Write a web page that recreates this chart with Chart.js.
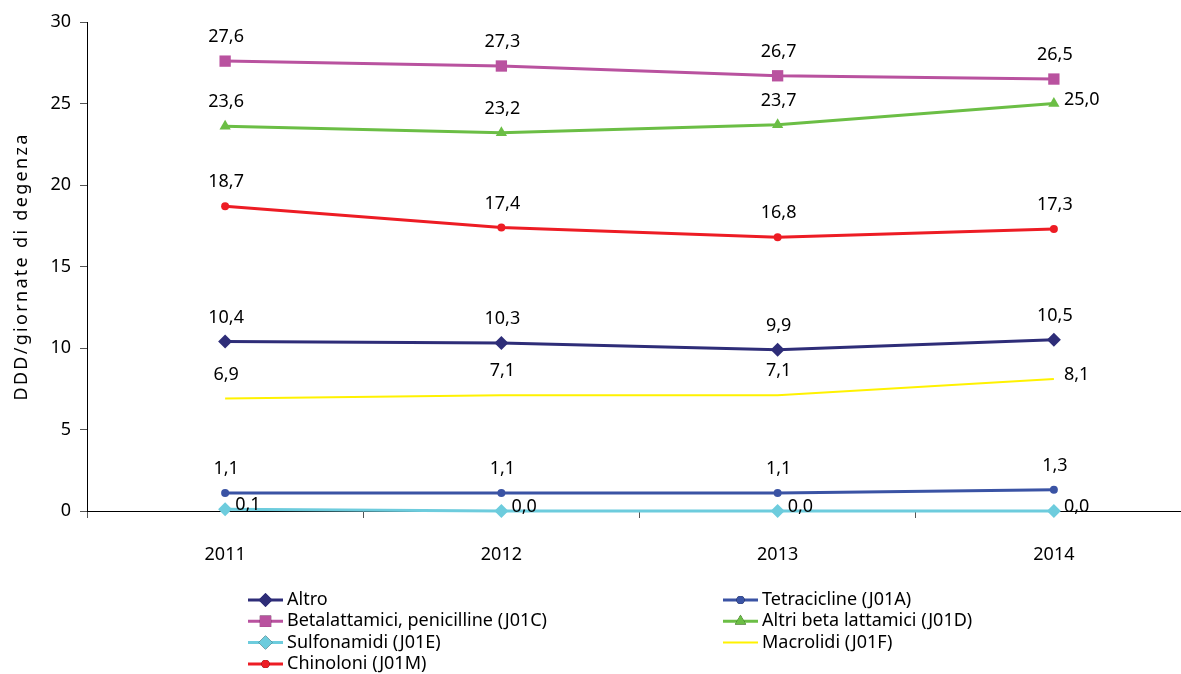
<!DOCTYPE html>
<html>
<head>
<meta charset="utf-8">
<script src="https://cdn.jsdelivr.net/npm/chart.js@4/dist/chart.umd.min.js"></script>
<style>
  html, body { margin: 0; padding: 0; background: #fff; overflow: hidden; }
  #wrap { width: 1200px; height: 674px; }
</style>
</head>
<body>
<div id="wrap"><canvas id="chart" width="1200" height="674"></canvas></div>
<script>
const years = ["2011", "2012", "2013", "2014"];

const altro = [10.4, 10.3, 9.9, 10.5];
const tetracicline = [1.1, 1.1, 1.1, 1.3];
const betalattamici = [27.6, 27.3, 26.7, 26.5];
const altriBeta = [23.6, 23.2, 23.7, 25.0];
const sulfonamidi = [0.1, 0.0, 0.0, 0.0];
const macrolidi = [6.9, 7.1, 7.1, 8.1];
const chinoloni = [18.7, 17.4, 16.8, 17.3];

const yTicks = [0, 5, 10, 15, 20, 25, 30];
const yTitle = "DDD/giornate di degenza";

const FONT = "'Noto Sans', sans-serif";

function series(label, data, color, style, radius, width, sides) {
  return {
    label: label,
    data: data,
    borderColor: color,
    backgroundColor: color,
    pointStyle: style,
    pointRadius: radius,
    pointHoverRadius: radius,
    pointBorderWidth: 0,
    borderWidth: width,
    tension: 0,
    clip: false,
    labelSides: sides
  };
}

const datasets = [
  series("Altro", altro, "#2E2D78", "rectRot", 7, 3, ["up", "up", "up", "up"]),
  series("Tetracicline (J01A)", tetracicline, "#3A53A4", "circle", 4, 3, ["up", "up", "up", "up"]),
  series("Betalattamici, penicilline (J01C)", betalattamici, "#B9529F", "rect", 8, 3, ["up", "up", "up", "up"]),
  series("Altri beta lattamici (J01D)", altriBeta, "#6BBE45", "triangle", 6.5, 3, ["up", "up", "up", "right"]),
  series("Sulfonamidi (J01E)", sulfonamidi, "#6DCCDD", "rectRot", 7, 3, ["right", "right", "right", "right"]),
  series("Macrolidi (J01F)", macrolidi, "#FFF200", false, 0, 2, ["up", "up", "up", "right"]),
  series("Chinoloni (J01M)", chinoloni, "#ED1C24", "circle", 4, 3, ["up", "up", "up", "up"])
];

function fmt(v) {
  return v.toFixed(1).replace(".", ",");
}

// value labels next to each point
const valueLabels = {
  id: "valueLabels",
  afterDatasetsDraw(chart) {
    const ctx = chart.ctx;
    ctx.save();
    ctx.font = "18px " + FONT;
    ctx.fillStyle = "#000";
    ctx.textBaseline = "middle";
    chart.data.datasets.forEach((ds, i) => {
      const meta = chart.getDatasetMeta(i);
      meta.data.forEach((pt, j) => {
        const txt = fmt(ds.data[j]);
        if (ds.labelSides[j] === "right") {
          ctx.textAlign = "left";
          ctx.fillText(txt, pt.x + 10, pt.y - 4);
        } else {
          ctx.textAlign = "center";
          ctx.fillText(txt, pt.x + 1, pt.y - 24);
        }
      });
    });
    ctx.restore();
  }
};

// y title with some letter spacing, and the two-column legend
const extras = {
  id: "extras",
  afterDraw(chart) {
    const ctx = chart.ctx;
    const area = chart.chartArea;
    ctx.save();
    ctx.font = "18px " + FONT;
    ctx.fillStyle = "#000";
    ctx.letterSpacing = "2.3px";
    ctx.translate(22, (area.top + area.bottom) / 2);
    ctx.rotate(-Math.PI / 2);
    ctx.textAlign = "center";
    ctx.textBaseline = "middle";
    ctx.fillText(yTitle, 0, 0);
    ctx.restore();

    ctx.save();
    ctx.font = "18px " + FONT;
    ctx.textBaseline = "middle";
    ctx.textAlign = "left";
    const cols = [248, 723];
    chart.data.datasets.forEach((ds, i) => {
      const x = cols[i % 2];
      const y = 600 + Math.floor(i / 2) * 21.3;
      ctx.strokeStyle = ds.borderColor;
      ctx.lineWidth = ds.borderWidth;
      ctx.beginPath();
      ctx.moveTo(x, y);
      ctx.lineTo(x + 35, y);
      ctx.stroke();
      if (ds.pointStyle) {
        Chart.helpers.drawPoint(ctx, {
          pointStyle: ds.pointStyle,
          radius: ds.pointRadius,
          borderWidth: 0,
          rotation: 0
        }, x + 17.5, y);
        ctx.fillStyle = ds.backgroundColor;
        ctx.fill();
      }
      ctx.fillStyle = "#000";
      ctx.fillText(ds.label, x + 39, y);
    });
    ctx.restore();
  }
};

new Chart(document.getElementById("chart"), {
  type: "line",
  data: { labels: years, datasets: datasets },
  plugins: [valueLabels, extras],
  options: {
    responsive: false,
    devicePixelRatio: 1,
    animation: false,
    layout: { padding: { top: 22, right: 7, bottom: 103, left: 0 } },
    plugins: {
      legend: { display: false },
      tooltip: { enabled: false }
    },
    scales: {
      x: {
        offset: true,
        afterFit(scale) { scale.height = 60; },
        grid: {
          offset: true,
          drawOnChartArea: false,
          tickLength: 7,
          color: "#555"
        },
        border: { color: "#000", width: 1 },
        ticks: {
          padding: 26,
          color: "#000",
          font: { family: FONT, size: 18 }
        }
      },
      y: {
        min: 0,
        max: 30,
        afterFit(scale) { scale.width = 87; },
        afterBuildTicks(scale) {
          scale.ticks = yTicks.map(v => ({ value: v }));
        },
        grid: {
          drawOnChartArea: false,
          tickLength: 7,
          color: "#555"
        },
        border: { color: "#000", width: 1 },
        ticks: {
          padding: 9,
          color: "#000",
          font: { family: FONT, size: 18 }
        }
      }
    }
  }
});
</script>
</body>
</html>
